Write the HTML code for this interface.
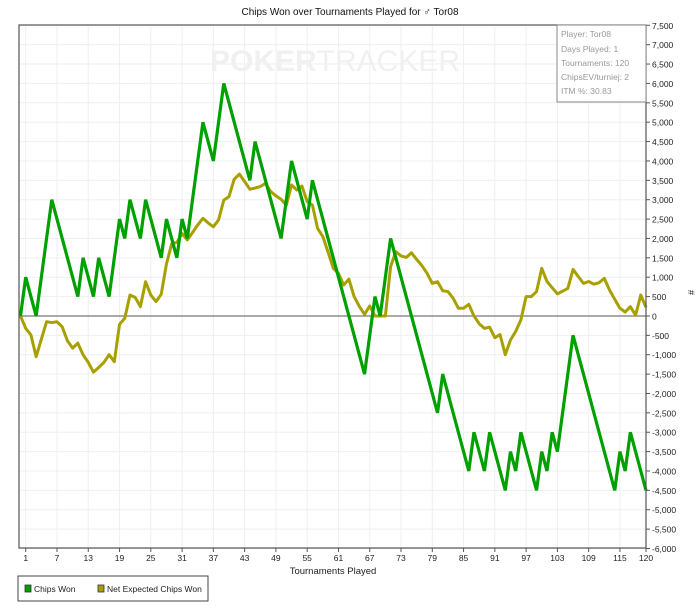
<!DOCTYPE html>
<html><head><meta charset="utf-8"><style>
body{margin:0;background:#fff;font-family:"Liberation Sans",sans-serif;}
svg text{font-family:"Liberation Sans",sans-serif;}
</style></head><body>
<svg id="chart" width="700" height="608" xmlns="http://www.w3.org/2000/svg">
<text x="350" y="15" font-size="10" text-anchor="middle" fill="#111">Chips Won over Tournaments Played for ♂ Tor08</text>
<g id="grid"></g>
<text x="335" y="71" font-size="30" font-weight="bold" text-anchor="middle" fill="#f0f0f0">POKER<tspan font-weight="normal">TRACKER</tspan></text>
<g id="series"></g>
<rect x="19" y="25" width="627" height="523" fill="none" stroke="#555" stroke-width="1.2"/>
<g id="axes"></g>
<g>
<rect x="557" y="25" width="89" height="77" fill="#fff" stroke="#888" stroke-width="1"/>
<text x="561" y="37" font-size="8.5" fill="#999">Player: Tor08</text>
<text x="561" y="52" font-size="8.5" fill="#999">Days Played: 1</text>
<text x="561" y="66" font-size="8.5" fill="#999">Tournaments: 120</text>
<text x="561" y="80" font-size="8.5" fill="#999">ChipsEV/turniej: 2</text>
<text x="561" y="94" font-size="8.5" fill="#999">ITM %: 30.83</text>
</g>
<text x="333" y="574" font-size="9.5" text-anchor="middle" fill="#222">Tournaments Played</text>
<text x="688" y="290" font-size="9" fill="#222" transform="rotate(90 688 290)">#</text>
<g>
<rect x="18" y="576" width="190" height="25" fill="#fff" stroke="#444" stroke-width="1"/>
<g><rect x="25" y="585" width="6" height="7" fill="#00a000" stroke="#333" stroke-width="0.8"/><text x="34" y="592" font-size="8.5" fill="#222">Chips Won</text></g>
<g><rect x="98" y="585" width="6" height="7" fill="#a8a000" stroke="#333" stroke-width="0.8"/><text x="107" y="592" font-size="8.5" fill="#222">Net Expected Chips Won</text></g>
</g>
</svg>
<script>
const chipsWon=[0,1000,500,0,1000,2000,3000,2500,2000,1500,1000,500,1500,1000,500,1500,1000,500,1500,2500,2000,3000,2500,2000,3000,2500,2000,1500,2500,2000,1500,2500,2000,3000,4000,5000,4500,4000,5000,6000,5500,5000,4500,4000,3500,4500,4000,3500,3000,2500,2000,3000,4000,3500,3000,2500,3500,3000,2500,2000,1500,1000,500,0,-500,-1000,-1500,-500,500,0,1000,2000,1500,1000,500,0,-500,-1000,-1500,-2000,-2500,-1500,-2000,-2500,-3000,-3500,-4000,-3000,-3500,-4000,-3000,-3500,-4000,-4500,-3500,-4000,-3000,-3500,-4000,-4500,-3500,-4000,-3000,-3500,-2500,-1500,-500,-1000,-1500,-2000,-2500,-3000,-3500,-4000,-4500,-3500,-4000,-3000,-3500,-4000,-4500];
const expectedWon=[0,-320,-490,-1050,-600,-150,-170,-150,-280,-640,-830,-700,-1000,-1200,-1450,-1330,-1200,-1000,-1180,-215,-60,540,480,240,885,540,370,560,1340,1860,1900,2130,1960,2150,2350,2520,2400,2300,2480,2990,3080,3530,3660,3470,3270,3300,3340,3420,3210,3100,3010,2860,3380,3250,3350,2950,2860,2260,2050,1650,1230,1100,800,950,500,250,40,260,0,0,0,1270,1660,1550,1510,1630,1460,1300,1100,840,885,650,630,460,200,200,300,0,-200,-320,-290,-560,-480,-1000,-620,-400,-100,500,500,630,1230,890,730,570,640,710,1200,1020,840,890,820,860,970,670,430,200,100,240,20,540,220];
const xTicks=[1,7,13,19,25,31,37,43,49,55,61,67,73,79,85,91,97,103,109,115,120];
const yTicks=[7500,7000,6500,6000,5500,5000,4500,4000,3500,3000,2500,2000,1500,1000,500,0,-500,-1000,-1500,-2000,-2500,-3000,-3500,-4000,-4500,-5000,-5500,-6000];
const NS='http://www.w3.org/2000/svg';
const X0=20.5,X1=646,Y0=25.3,Y1=548.5;
function xs(i){return X0+(X1-X0)*i/120;}
function ys(v){return Y0+(Y1-Y0)*(7500-v)/13500;}
function mk(t,a,p){const e=document.createElementNS(NS,t);for(const k in a)e.setAttribute(k,a[k]);p.appendChild(e);return e;}
const grid=document.getElementById('grid'),axes=document.getElementById('axes'),ser=document.getElementById('series');
yTicks.forEach(v=>{
 const y=ys(v);
 const l=mk('line',{x1:19,x2:646,y1:y,y2:y,stroke:'#efefef','stroke-width':1},grid);
 
 
 const t=mk('line',{x1:646,x2:650,y1:y,y2:y,stroke:'#555'},axes);
 
 
 const tx=mk('text',{x:652,y:y+3.5,'font-size':8.5,fill:'#222'},axes);
 tx.textContent=v.toLocaleString('en-US');
 
 
});
xTicks.forEach(i=>{
 const x=xs(i);
 const l=mk('line',{x1:x,x2:x,y1:25,y2:548,stroke:'#efefef','stroke-width':1},grid);
 
 
 const t=mk('line',{x1:x,x2:x,y1:548,y2:552,stroke:'#555'},axes);
 
 
 const tx=mk('text',{x:x,y:561,'font-size':8.5,fill:'#222','text-anchor':'middle'},axes);
 tx.textContent=i;
 
 
});
const zl=mk('line',{x1:19,x2:646,y1:ys(0),y2:ys(0),stroke:'#777','stroke-width':1.2},ser);


const p2=mk('polyline',{points:expectedWon.map((v,i)=>xs(i)+','+ys(v)).join(' '),fill:'none',stroke:'#a8a000','stroke-width':3,'stroke-linejoin':'round'},ser);


const p1=mk('polyline',{points:chipsWon.map((v,i)=>xs(i)+','+ys(v)).join(' '),fill:'none',stroke:'#00a000','stroke-width':3.2,'stroke-linejoin':'miter'},ser);


</script>
</body></html>
